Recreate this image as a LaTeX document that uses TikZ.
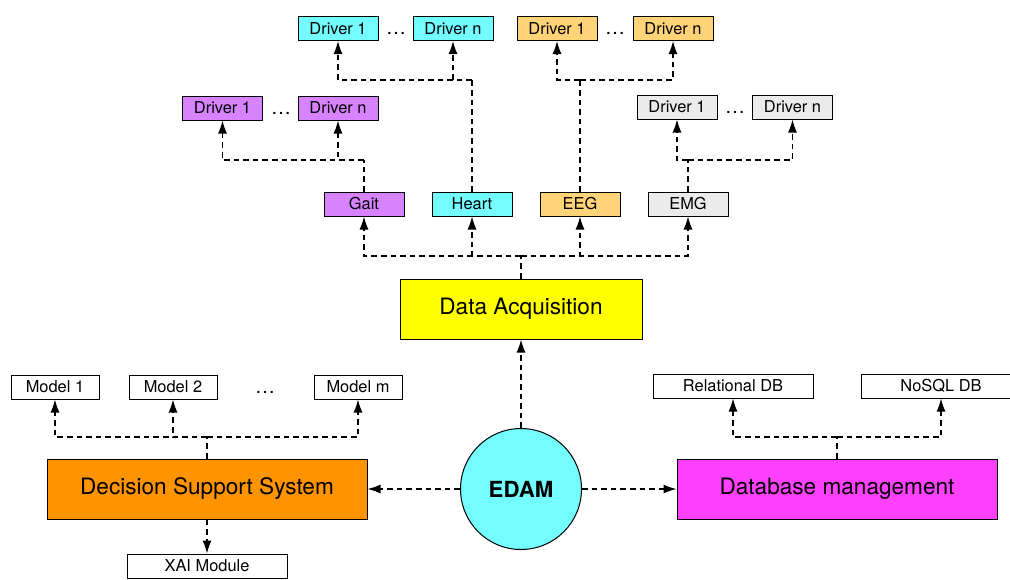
\documentclass[tikz,border=0pt]{standalone}
\usepackage{fontspec}
\setmainfont{TeX Gyre Heros}
\usetikzlibrary{arrows.meta,positioning}
\definecolor{ice}{HTML}{73FDFF}
\definecolor{lavender}{HTML}{D783FF}
\definecolor{cantaloupe}{HTML}{FFD479}
\definecolor{mercury}{HTML}{EBEBEB}
\definecolor{lemon}{HTML}{FFFF00}
\definecolor{tangerine}{HTML}{FF9300}
\definecolor{strawberry}{HTML}{FF40FF}
\tikzset{
     small node/.style={draw, line width=0.5pt, inner sep=0pt, minimum height=12pt, font=\fontsize{8.2}{10}\selectfont},
     driver node/.style={small node, minimum width=40pt},
     big node/.style={draw, line width=0.5pt, inner sep=0pt, minimum width=160pt, minimum height=30pt, font=\fontsize{11.3}{13}\selectfont},
     dot node/.style={inner sep=0pt, font=\fontsize{10}{12}\selectfont},
     dline/.style={black, line width=0.65pt, dash pattern=on 2.8pt off 2pt},
     link/.style={dline, -{Latex[length=6.5pt,width=4.5pt]}},
    }

\begin{document}
\begin{tikzpicture}[x=0.5pt, y=-0.5pt]
        \useasboundingbox (0,0) rectangle (1010,579);
        \node [driver node, fill=ice] (cd1) at (338,28.5) {Driver 1};
        \node [dot node] (cdots) at (396,33) {\ldots};
        \node [driver node, fill=ice] (cdn) at (453,28.5) {Driver n};
        \node [driver node, fill=cantaloupe] (od1) at (557,28.5) {Driver 1};
        \node [dot node] (odots) at (615,33) {\ldots};
        \node [driver node, fill=cantaloupe] (odn) at (673,28.5) {Driver n};
        \node [driver node, fill=lavender] (pd1) at (222.5,108) {Driver 1};
        \node [dot node] (pdots) at (281,113) {\ldots};
        \node [driver node, fill=lavender] (pdn) at (338,108) {Driver n};
        \node [driver node, fill=mercury] (gd1) at (677,107) {Driver 1};
        \node [dot node] (gdots) at (735,112) {\ldots};
        \node [driver node, fill=mercury] (gdn) at (792.5,107) {Driver n};
        \node [driver node, fill=lavender] (gait) at (364,204) {Gait};
        \node [driver node, fill=ice] (heart) at (472,204) {Heart};
        \node [driver node, fill=cantaloupe] (eeg) at (580,204) {EEG};
        \node [driver node, fill=mercury] (emg) at (688,204) {EMG};
        \node [big node, fill=lemon, minimum width=121pt] (da) at (521,309) {Data Acquisition};
        \node [draw, circle, line width=0.5pt, fill=ice, inner sep=0pt, minimum size=60.5pt, font=\fontsize{11.1}{13}\selectfont\bfseries] (edam) at (521,489) {EDAM};
        \node [big node, fill=tangerine] (dss) at (207,489) {Decision Support System};
        \node [big node, fill=strawberry] (db) at (837,489) {Database management};
        \node [small node, minimum width=44pt] (m1) at (55,387) {Model 1};
        \node [small node, minimum width=44pt] (m2) at (173,387) {Model 2};
        \node [dot node] (mdots) at (265,392) {\ldots};
        \node [small node, minimum width=44pt] (mm) at (358,387) {Model m};
        \node [small node, minimum width=80pt] (xai) at (207,566) {XAI Module};
        \node [small node, minimum width=80pt] (rdb) at (733,386) {Relational DB};
        \node [small node, minimum width=80pt] (ndb) at (941,386) {NoSQL DB};
        \coordinate (gait-bus) at (364,160);
        \coordinate (heart-bus) at (472,80);
        \coordinate (eeg-bus) at (580,80);
        \coordinate (emg-bus) at (688,160);
        \coordinate (da-bus) at (521,256);
        \coordinate (dss-bus) at (207,437);
        \coordinate (db-bus) at (837,437);
        \foreach \s/\a/\b in {gait/pd1/pdn, heart/cd1/cdn, eeg/od1/odn, emg/gd1/gdn} {
          \draw [dline] (\s.north) -- (\s-bus);
          \draw [link] (\s-bus) -| (\a.south);
          \draw [link] (\s-bus) -| (\b.south);
        }
        \draw [dline] (da.north) -- (da-bus);
        \foreach \s in {gait, heart, eeg, emg}
          \draw [link] (da-bus) -| (\s.south);
        \draw [dline] (dss.north) -- (dss-bus);
        \foreach \s in {m1, m2, mm}
          \draw [link] (dss-bus) -| (\s.south);
        \draw [dline] (db.north) -- (db-bus);
        \foreach \s in {rdb, ndb}
          \draw [link] (db-bus) -| (\s.south);
        \path [link]
        (edam) edge (da)
        (edam) edge (dss)
        (edam) edge (db)
        (dss) edge (xai);
    \end{tikzpicture}
\end{document}
